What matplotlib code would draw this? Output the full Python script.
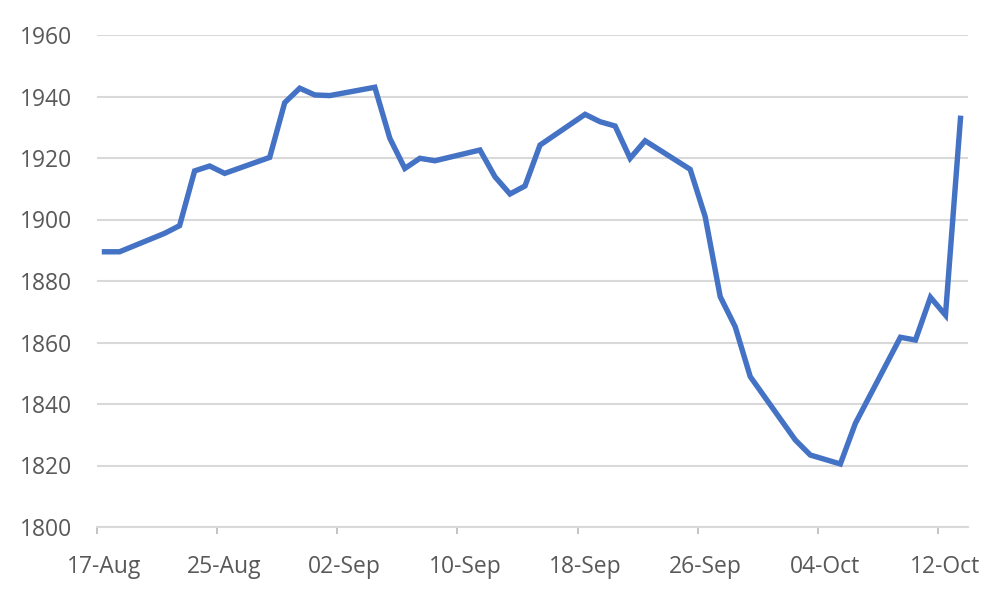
import pandas as pd
import matplotlib
matplotlib.use("Agg")
import matplotlib.pyplot as plt
import matplotlib.dates as mdates


dates = [
    "2023-08-17", "2023-08-18", "2023-08-21", "2023-08-22", "2023-08-23",
    "2023-08-24", "2023-08-25", "2023-08-28", "2023-08-29", "2023-08-30",
    "2023-08-31", "2023-09-01", "2023-09-04", "2023-09-05", "2023-09-06",
    "2023-09-07", "2023-09-08", "2023-09-11", "2023-09-12", "2023-09-13",
    "2023-09-14", "2023-09-15", "2023-09-18", "2023-09-19", "2023-09-20",
    "2023-09-21", "2023-09-22", "2023-09-25", "2023-09-26", "2023-09-27",
    "2023-09-28", "2023-09-29", "2023-10-02", "2023-10-03", "2023-10-05",
    "2023-10-06", "2023-10-09", "2023-10-10", "2023-10-11", "2023-10-12",
    "2023-10-13",
]
prices = [
    1889.5, 1889.5, 1895.5, 1898.0, 1915.8,
    1917.4, 1915.0, 1920.2, 1938.0, 1942.7,
    1940.5, 1940.3, 1943.0, 1926.4, 1916.6,
    1919.9, 1919.1, 1922.6, 1913.9, 1908.3,
    1910.9, 1924.2, 1934.2, 1931.8, 1930.4,
    1919.9, 1925.6, 1916.3, 1900.9, 1874.9,
    1865.1, 1848.9, 1828.3, 1823.4, 1820.5,
    1833.7, 1861.7, 1860.8, 1874.7, 1868.9,
    1932.9,
]
tick_dates = ["2023-08-17", "2023-08-25", "2023-09-02", "2023-09-10",
              "2023-09-18", "2023-09-26", "2023-10-04", "2023-10-12"]
y_ticks = [1800, 1820, 1840, 1860, 1880, 1900, 1920, 1940, 1960]

plt.rcParams['font.family'] = ['Open Sans', 'DejaVu Sans']
text_col = "#595959"
grid_col = "#D9D9D9"

x = mdates.date2num(pd.to_datetime(dates))
tx = mdates.date2num(pd.to_datetime(tick_dates))

fig, ax = plt.subplots(figsize=(10, 6), dpi=100)
fig.subplots_adjust(left=0.097, right=0.968, top=1 - 35 / 600, bottom=1 - 527 / 600)

ax.plot(x, prices, color="#4472C4", lw=3.9, solid_joinstyle="miter", zorder=3)

ax.set_xlim(tx[0] - 0.5, tx[0] + 57.5)
ax.set_ylim(1800, 1960)

ax.set_yticks(y_ticks)
ax.set_yticklabels([str(v) for v in y_ticks])
ax.set_xticks(tx)
ax.set_xticklabels([pd.Timestamp(d).strftime("%d-%b") for d in tick_dates])
# tick marks sit between the day slots, labels on the day itself
ax.set_xticks(tx - 0.5, minor=True)

ax.tick_params(axis="y", length=0, pad=18, labelsize=16.5, labelcolor=text_col)
ax.tick_params(axis="x", which="major", length=0, pad=20, labelsize=16.5, labelcolor=text_col)
ax.tick_params(axis="x", which="minor", length=5, width=1.3, color="#BFBFBF")

ax.grid(axis="y", color=grid_col, lw=1.5)
ax.set_axisbelow(True)
for s in ["top", "right", "left"]:
    ax.spines[s].set_visible(False)
ax.spines["bottom"].set_color(grid_col)
ax.spines["bottom"].set_linewidth(1.5)

plt.savefig("out.png", dpi=100)
